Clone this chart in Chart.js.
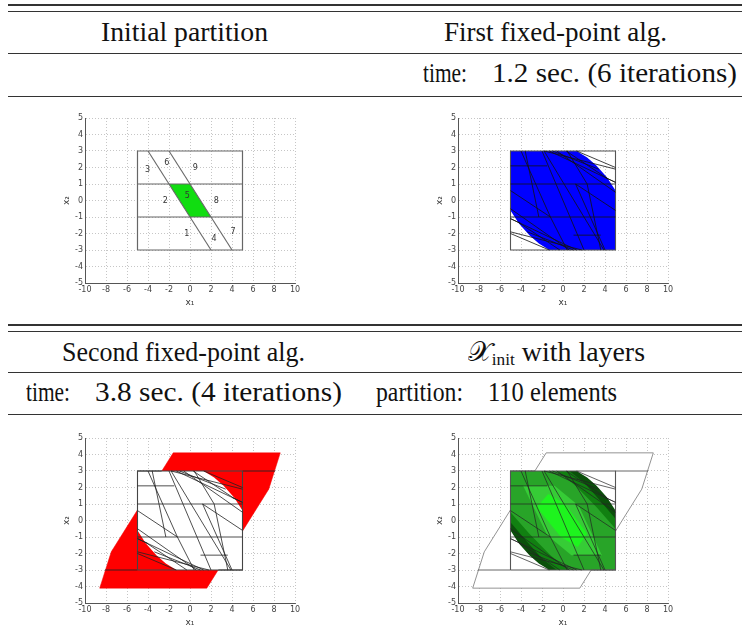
<!DOCTYPE html>
<html>
<head>
<meta charset="utf-8">
<script src="https://cdn.jsdelivr.net/npm/chart.js@4.4.1/dist/chart.umd.min.js"></script>
<style>
html, body { margin: 0; padding: 0; background: #fff; }
#page { position: relative; width: 742px; height: 643px; overflow: hidden; font-family: "Liberation Serif", "DejaVu Serif", serif; color: #111; }
.rule { position: absolute; left: 8px; right: 0; height: 1px; background: #333; }
.t { position: absolute; font-size: 23px; white-space: nowrap; line-height: 1; transform-origin: 0 50%; }
.sub { font-size: 0.62em; position: relative; top: 0.22em; }
canvas { position: absolute; }
</style>
</head>
<body>
<div id="page">
  <div class="rule" style="top:4px;height:2px"></div>
  <div class="rule" style="top:11px"></div>
  <div class="t" data-x="101" data-y="33" data-w="167">Initial partition</div>
  <div class="t" id="ref" data-x="444" data-y="33" data-w="223">First fixed-point alg.</div>
  <div class="rule" style="top:53px"></div>
  <div class="t" data-x="423" data-y="74" data-w="44">time:</div>
  <div class="t" data-x="492" data-y="74" data-w="245">1.2 sec. (6 iterations)</div>
  <div class="rule" style="top:96px"></div>

  <canvas id="c1" width="242" height="200" style="left:61px;top:108px"></canvas>
  <canvas id="c2" width="242" height="200" style="left:434px;top:108px"></canvas>

  <div class="rule" style="top:324px;height:2px"></div>
  <div class="rule" style="top:331px"></div>
  <div class="t" data-x="62" data-y="353" data-w="243">Second fixed-point alg.</div>
  <div class="t" data-x="468" data-y="353" data-w="177"><span>𝒳</span><span class="sub">init</span> with layers</div>
  <div class="rule" style="top:372px"></div>
  <div class="t" data-x="26" data-y="393" data-w="44">time:</div>
  <div class="t" data-x="95" data-y="393" data-w="247">3.8 sec. (4 iterations)</div>
  <div class="t" data-x="376" data-y="393" data-w="87">partition:</div>
  <div class="t" data-x="488" data-y="393" data-w="129">110 elements</div>
  <div class="rule" style="top:414px"></div>

  <canvas id="c3" width="242" height="200" style="left:61px;top:428px"></canvas>
  <canvas id="c4" width="242" height="200" style="left:434px;top:428px"></canvas>
</div>

<script>
// table text: pick an installed serif face, size it from one heading, then fit each label to its column width
(function () {
  const probe = document.createElement('canvas').getContext('2d');
  const sample = 'Initial partition fixed-point 0123';
  const widthIn = f => { probe.font = '40px ' + f; return probe.measureText(sample).width; };
  const base = widthIn('monospace');
  const faces = ['"Liberation Serif"', '"DejaVu Serif"', '"Noto Serif"', '"Times New Roman"'];
  const face = faces.find(f => Math.abs(widthIn(f + ', monospace') - base) > 0.5) || 'serif';
  document.getElementById('page').style.fontFamily = face + ', serif';

  const ref = document.getElementById('ref');
  const size = 23 * 223 / ref.getBoundingClientRect().width;
  const items = Array.from(document.querySelectorAll('.t'));
  items.forEach(el => { el.style.fontSize = size.toFixed(2) + 'px'; });
  items.forEach(el => {
    const r = el.getBoundingClientRect();
    const sx = (+el.dataset.w) / r.width;
    el.style.left = el.dataset.x + 'px';
    el.style.top = (+el.dataset.y - r.height / 2) + 'px';
    el.style.transform = 'scaleX(' + sx.toFixed(4) + ')';
  });
})();

// ---- axis ranges ----
const xRange = [-10, 10];
const yRange = [-5, 5];
const xStep = 2;
const yStep = 1;

// ---- initial partition: box, splitting lines, the highlighted cell and cell numbers ----
const stateBox = [[-5, -3], [5, -3], [5, 3], [-5, 3]];
const initialCuts = [
  [-5, 1, 5, 1],
  [-5, -1, 5, -1],
  [-4, 3, 2, -3],
  [-2, 3, 4, -3]
];
const cellFive = [[-2, 1], [0, 1], [2, -1], [0, -1]];
const cellNames = ['1', '2', '3', '4', '5', '6', '7', '8', '9'];
const cellNameX = [-0.3, -2.35, -4.05, 2.3, -0.25, -2.2, 4.1, 2.5, 0.5];
const cellNameY = [-2.0, 0.0, 1.85, -2.3, 0.3, 2.3, -1.9, 0.0, 2.0];

// ---- invariant set found by the fixed-point iterations ----
const invariantSet = [
  [-5, 3], [1.3, 3], [2.3, 2.6], [3.2, 2.1], [4.2, 1.4], [5, 0.6],
  [5, -3], [-1.3, -3], [-2.3, -2.6], [-3.2, -2.1], [-4.2, -1.4], [-5, -0.6]
];

// ---- refined partition lines of the box ----
const refinedCuts = [
  [-5, 1, 5, 1],
  [-5, -1, 5, -1],
  [-5, 2.1, -1.5, 2.1],
  [1.0, -2.1, 3.6, -2.1],
  [-4, 3, -1.2, -1],
  [-1.2, -1, 0.4, -3],
  [-2, 3, 2, -3],
  [-1.8, 3, 3.9, -3],
  [2.3, 1, 3.6, -3],
  [0.4, 3, 2.3, 1],
  [-2.3, -1, -3.6, 3],
  [1.2, 1, 4.0, -3],
  [-1.8, 3, 5, 1.9],
  [-1.3, 3, 5, 1.1],
  [-0.6, 3, 5, 0.5],
  [0.3, 3, 4.3, 1.3],
  [-1.0, 3, 3.4, 1.9],
  [1.3, 3, 5, 2.0],
  [4.0, 1.4, 5, 1.1],
  [1.8, -3, -5, -1.9],
  [1.3, -3, -5, -1.1],
  [0.6, -3, -5, -0.5],
  [-0.3, -3, -4.3, -1.3],
  [1.0, -3, -3.4, -1.9],
  [-1.3, -3, -5, -2.0],
  [-4.0, -1.4, -5, -1.1],
  [-5, 0.6, -1.2, -1],
  [5, -0.6, 1.2, 1]
];

// ---- one-step backward reachable set and its cuts outside the box ----
const backwardSet = [[-1.6, 4.1], [8.6, 4.1], [7.5, 1.9], [1.6, -4.1], [-8.6, -4.1], [-7.5, -1.9]];
const outerCuts = [
  [5, 3, 8.1, 3],
  [-8.1, -3, -5, -3],
  [-2.7, 3, -5, 3],
  [2.7, -3, 5, -3]
];

// ---- layers of the initial set, darkest (outermost) to brightest ----
const layerShapes = [
  invariantSet,
  [[-5, 3], [0.6, 3], [2.0, 2.3], [3.4, 1.3], [5, 0.1], [5, -3], [-0.6, -3], [-2.0, -2.3], [-3.4, -1.3], [-5, -0.1]],
  [[-5, 3], [-0.6, 3], [1.2, 2.1], [3.2, 0.8], [5, -0.5], [5, -3], [0.6, -3], [-1.2, -2.1], [-3.2, -0.8], [-5, 0.5]],
  [[-3.8, 2.1], [-0.8, 2.1], [1.5, 0.9], [3.7, -2.1], [0.8, -2.1], [-1.5, -0.9]],
  [[-2.5, 0.8], [-1.4, 1.6], [0.2, 1.0], [2.3, -0.8], [1.4, -1.6], [-0.2, -1.0]]
];
const layerColors = ['#0b500b', '#118011', '#28a428', '#36cc36', '#1ef41e'];

// ---- dataset helpers ----
function polygon(pts, fillColor, lineColor, lineWidth) {
  const data = pts.map(p => ({ x: p[0], y: p[1] }));
  data.push({ x: pts[0][0], y: pts[0][1] });
  return {
    data, showLine: true, tension: 0, pointRadius: 0,
    fill: fillColor ? 'shape' : false,
    backgroundColor: fillColor || 'transparent',
    borderColor: lineColor || 'transparent',
    borderWidth: lineWidth || 0
  };
}
function segments(list, color, width) {
  return list.map(s => ({
    data: [{ x: s[0], y: s[1] }, { x: s[2], y: s[3] }],
    showLine: true, tension: 0, pointRadius: 0, fill: false,
    borderColor: color, borderWidth: width
  }));
}

const cellNamePlugin = {
  id: 'cellNames',
  afterDatasetsDraw(chart) {
    if (!chart.options.plugins.cellNames || !chart.options.plugins.cellNames.show) return;
    const { ctx, scales } = chart;
    ctx.save();
    ctx.fillStyle = '#333';
    ctx.font = '8px "DejaVu Sans"';
    ctx.textAlign = 'center';
    ctx.textBaseline = 'middle';
    cellNames.forEach((n, i) => {
      ctx.fillText(n, scales.x.getPixelForValue(cellNameX[i]), scales.y.getPixelForValue(cellNameY[i]));
    });
    ctx.restore();
  }
};

function makeChart(id, layers, showNames) {
  // layers are listed bottom to top
  layers.forEach((d, i) => { d.order = layers.length - i; });
  const tickFont = { size: 8, family: 'DejaVu Sans' };
  return new Chart(document.getElementById(id), {
    type: 'scatter',
    data: { datasets: layers },
    plugins: [cellNamePlugin],
    options: {
      responsive: false,
      animation: false,
      events: [],
      layout: { padding: { top: 10, right: 8, left: 0, bottom: 0 } },
      plugins: { legend: { display: false }, tooltip: { enabled: false }, cellNames: { show: showNames } },
      scales: {
        x: {
          type: 'linear', min: xRange[0], max: xRange[1],
          ticks: { stepSize: xStep, font: tickFont, color: '#444', padding: 2, maxRotation: 0, autoSkip: false },
          grid: { color: '#b8b8b8', lineWidth: 0.8, drawTicks: false },
          border: { display: true, color: '#555', width: 1, dash: [1, 2] },
          title: { display: true, text: 'x₁', font: { size: 9, family: 'DejaVu Sans' }, color: '#333', padding: 0 },
          afterFit(s) { s.height = 25; }
        },
        y: {
          type: 'linear', min: yRange[0], max: yRange[1],
          ticks: { stepSize: yStep, font: tickFont, color: '#444', padding: 2, autoSkip: false },
          grid: { color: '#b8b8b8', lineWidth: 0.8, drawTicks: false },
          border: { display: true, color: '#555', width: 1, dash: [1, 2] },
          title: { display: true, text: 'x₂', font: { size: 9, family: 'DejaVu Sans' }, color: '#333', padding: 0 },
          afterFit(s) { s.width = 24; }
        }
      }
    }
  });
}

// Initial partition
makeChart('c1', [
  polygon(cellFive, '#11dd11', null, 0),
  polygon(stateBox, null, '#666', 1.2),
  ...segments(initialCuts, '#666', 1.1)
], true);

// First fixed-point algorithm
makeChart('c2', [
  polygon(invariantSet, '#0000ff', null, 0),
  polygon(stateBox, null, '#555', 1.1),
  ...segments(refinedCuts, '#111', 0.8)
], false);

// Second fixed-point algorithm
makeChart('c3', [
  polygon(backwardSet, '#ff0000', '#ee0000', 0.5),
  polygon(invariantSet, '#ffffff', null, 0),
  ...segments(outerCuts, '#222', 0.9),
  polygon(stateBox, null, '#444', 1.1),
  ...segments(refinedCuts, '#222', 0.8)
], false);

// Initial set with layers
makeChart('c4', [
  polygon(backwardSet, '#ffffff', '#777', 0.8),
  ...layerShapes.map((s, i) => polygon(s, layerColors[i], null, 0)),
  ...segments(outerCuts, '#555', 0.9),
  polygon(stateBox, null, '#555', 1.1),
  ...segments(refinedCuts, '#222', 0.7)
], false);
</script>
</body>
</html>
